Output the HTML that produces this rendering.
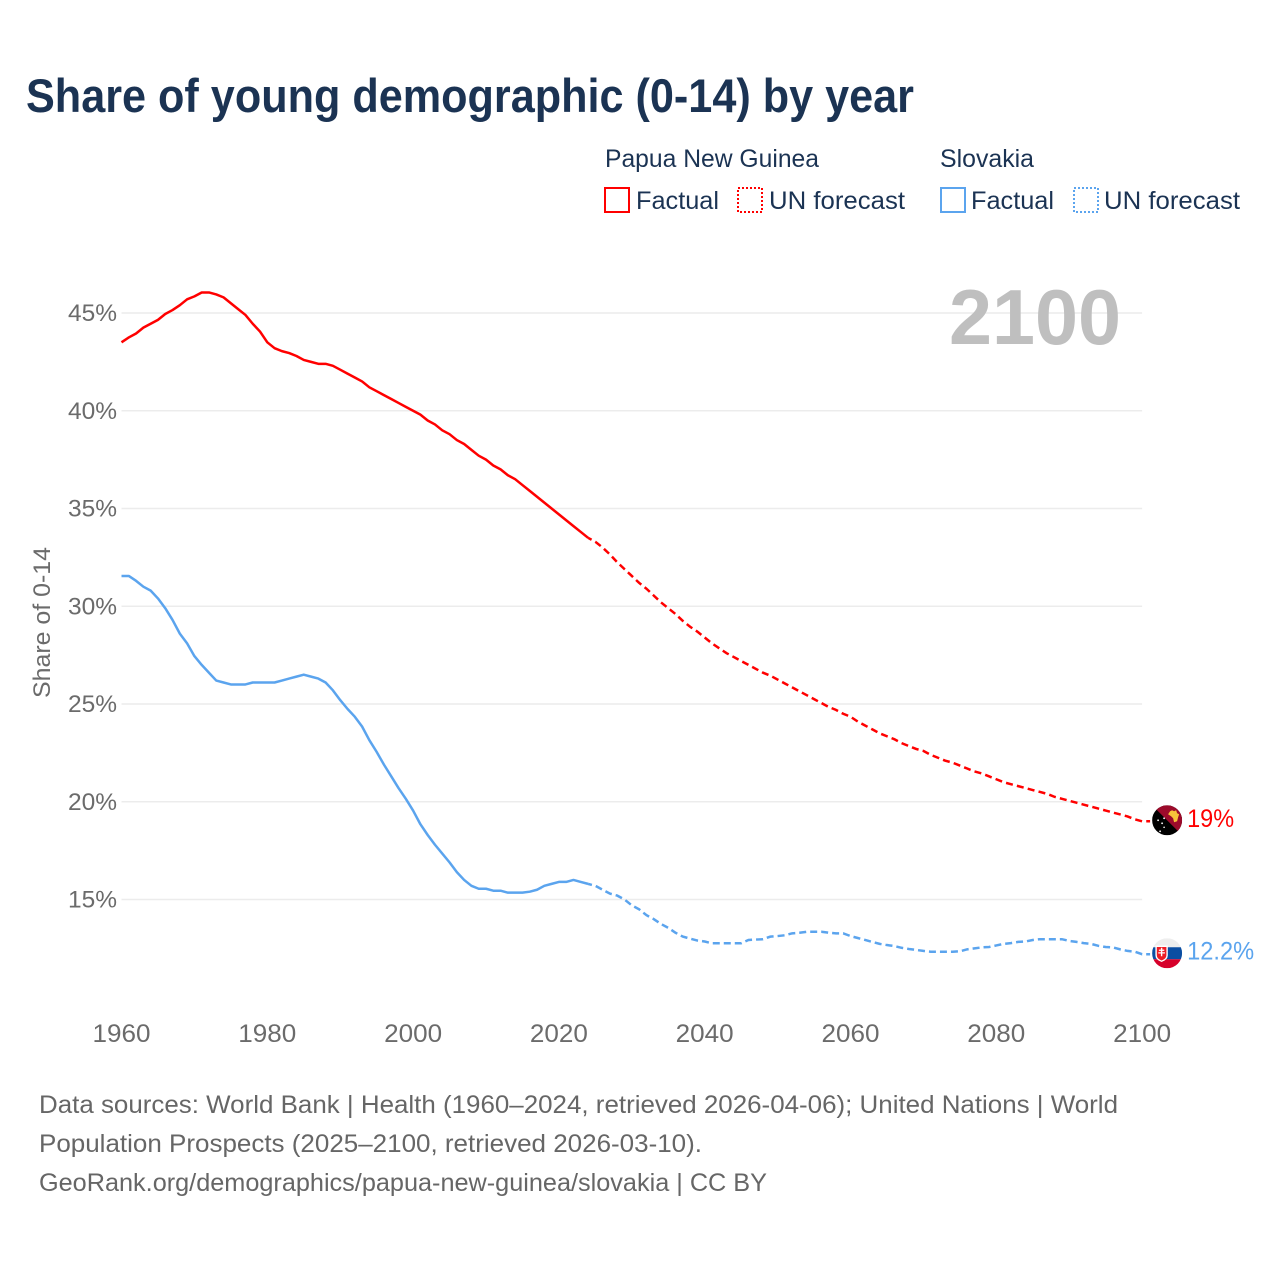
<!DOCTYPE html>
<html lang="en">
<head>
<meta charset="utf-8">
<title>Share of young demographic (0-14) by year</title>
<style>
html,body{margin:0;padding:0;background:#fff;}
svg{display:block;font-family:"Liberation Sans",sans-serif;}
.legend-text{font-size:25px;fill:#1b3353;}
.foot{font-size:25px;fill:#666;}
</style>
</head>
<body>
<svg id="chart" xmlns="http://www.w3.org/2000/svg" width="1280" height="1280" viewBox="0 0 1280 1280">
  <defs>
    <clipPath id="flag-clip"><circle cx="0" cy="0" r="15"></circle></clipPath>
  </defs>
  <rect width="1280" height="1280" fill="#fff"></rect>
  <text x="26" y="112" font-size="47" font-weight="700" fill="#1b3353" textLength="888" lengthAdjust="spacingAndGlyphs">Share of young demographic (0-14) by year</text>

  <g>
    <text class="legend-text" x="605" y="167" textLength="214" lengthAdjust="spacingAndGlyphs">Papua New Guinea</text>
    <text class="legend-text" x="940" y="167" textLength="94" lengthAdjust="spacingAndGlyphs">Slovakia</text>
    <rect x="605" y="188" width="24" height="24" fill="none" stroke="#ff0000" stroke-width="2"></rect>
    <text class="legend-text" x="636" y="209" textLength="83" lengthAdjust="spacingAndGlyphs">Factual</text>
    <rect x="738" y="188" width="24" height="24" fill="none" stroke="#ff0000" stroke-width="2" stroke-dasharray="2 2"></rect>
    <text class="legend-text" x="769" y="209" textLength="136" lengthAdjust="spacingAndGlyphs">UN forecast</text>
    <rect x="941" y="188" width="24" height="24" fill="none" stroke="#5ba4ee" stroke-width="2"></rect>
    <text class="legend-text" x="971" y="209" textLength="83" lengthAdjust="spacingAndGlyphs">Factual</text>
    <rect x="1074" y="188" width="24" height="24" fill="none" stroke="#5ba4ee" stroke-width="2" stroke-dasharray="2 2"></rect>
    <text class="legend-text" x="1104" y="209" textLength="136" lengthAdjust="spacingAndGlyphs">UN forecast</text>
  </g>

  <g id="grid"></g>
  <text x="1121" y="344" text-anchor="end" font-size="78" font-weight="700" fill="#bfbfbf" textLength="172" lengthAdjust="spacingAndGlyphs">2100</text>
  <g id="y-axis"></g>
  <text transform="translate(50,698) rotate(-90)" font-size="24" fill="#6b6b6b" textLength="151" lengthAdjust="spacingAndGlyphs">Share of 0-14</text>
  <g id="x-axis"></g>
  <g id="series"></g>

  <g id="flag-png">
    <rect x="-15" y="-15" width="30" height="30" fill="#000"></rect>
    <polygon points="-15,-15 15,-15 15,15" fill="#9c0b2b"></polygon>
    <path d="M1,-6 L3,-9 L5,-10 L7,-9 L9,-10 L10,-7 L12,-6 L11,-3 L10,1 L7,2 L6,-2 L4,-4 Z" fill="#f8c33a"></path>
    <circle cx="-9" cy="0" r="0.9" fill="#fff"></circle>
    <circle cx="-3" cy="-2" r="0.9" fill="#fff"></circle>
    <circle cx="-5" cy="3" r="0.9" fill="#fff"></circle>
    <circle cx="-3" cy="7" r="0.8" fill="#fff"></circle>
    <circle cx="-7" cy="11" r="0.9" fill="#fff"></circle>
  </g>
  <g id="flag-svk">
    <rect x="-15" y="-15" width="30" height="9" fill="#eeeeee"></rect>
    <rect x="-15" y="-6" width="30" height="12" fill="#0b4ea2"></rect>
    <rect x="-15" y="6" width="30" height="9" fill="#d6002a"></rect>
    <path d="M-11,-7 H0 V2 Q0,6 -5.5,8 Q-11,6 -11,2 Z" fill="#ee1c25" stroke="#fff" stroke-width="1.4"></path>
    <path d="M-6.2,-5.5 H-4.8 V-3.6 H-2.8 V-2.4 H-4.8 V-1 H-2.2 V0.2 H-4.8 V3 H-6.2 V0.2 H-8.8 V-1 H-6.2 V-2.4 H-8.2 V-3.6 H-6.2 Z" fill="#fff"></path>
  </g>
  <g id="value-labels"></g>

  <g>
    <text class="foot" x="39" y="1113" textLength="1079" lengthAdjust="spacingAndGlyphs">Data sources: World Bank | Health (1960–2024, retrieved 2026-04-06); United Nations | World</text>
    <text class="foot" x="39" y="1152" textLength="663" lengthAdjust="spacingAndGlyphs">Population Prospects (2025–2100, retrieved 2026-03-10).</text>
    <text class="foot" x="39" y="1191" textLength="728" lengthAdjust="spacingAndGlyphs">GeoRank.org/demographics/papua-new-guinea/slovakia | CC BY</text>
  </g>
</svg>
<script>
const startYear = 1960;
const lastFactualYear = 2024;
const pngValues = [
  43.5,43.75,43.95,44.25,44.45,44.65,44.95,45.15,45.4,45.7,
  45.85,46.05,46.05,45.95,45.8,45.5,45.2,44.9,44.45,44.05,
  43.5,43.2,43.05,42.95,42.8,42.6,42.5,42.4,42.4,42.3,
  42.1,41.9,41.7,41.5,41.2,41.0,40.8,40.6,40.4,40.2,
  40.0,39.8,39.5,39.3,39.0,38.8,38.5,38.3,38.0,37.7,
  37.5,37.2,37.0,36.7,36.5,36.2,35.9,35.6,35.3,35.0,
  34.7,34.4,34.1,33.8,33.5,33.3,33.0,32.65,32.25,31.9,
  31.55,31.2,30.9,30.55,30.2,29.9,29.6,29.25,28.95,28.7,
  28.4,28.1,27.85,27.6,27.4,27.2,27.0,26.8,26.6,26.45,
  26.25,26.05,25.85,25.65,25.45,25.25,25.05,24.85,24.7,24.5,
  24.35,24.1,23.9,23.7,23.5,23.35,23.2,23.0,22.85,22.7,
  22.6,22.4,22.25,22.1,22.0,21.85,21.7,21.55,21.45,21.3,
  21.15,21.0,20.9,20.8,20.7,20.6,20.5,20.4,20.25,20.15,
  20.05,19.95,19.85,19.75,19.65,19.55,19.45,19.35,19.25,19.1,
  19
];
const svkValues = [
  31.55,31.55,31.3,31.0,30.8,30.4,29.9,29.3,28.6,28.1,
  27.45,27.0,26.6,26.2,26.1,26.0,26.0,26.0,26.1,26.1,
  26.1,26.1,26.2,26.3,26.4,26.5,26.4,26.3,26.1,25.7,
  25.2,24.75,24.35,23.85,23.15,22.55,21.9,21.3,20.7,20.15,
  19.55,18.85,18.3,17.8,17.35,16.9,16.4,16.0,15.7,15.55,
  15.55,15.45,15.45,15.35,15.35,15.35,15.4,15.5,15.7,15.8,
  15.9,15.9,16.0,15.9,15.8,15.7,15.5,15.3,15.2,15.0,
  14.7,14.5,14.2,14.0,13.75,13.55,13.3,13.1,13.0,12.9,
  12.85,12.76,12.76,12.76,12.76,12.76,12.93,12.95,12.97,13.1,
  13.13,13.17,13.27,13.3,13.35,13.35,13.35,13.3,13.27,13.27,
  13.13,13.03,12.93,12.83,12.73,12.67,12.62,12.53,12.47,12.42,
  12.37,12.33,12.33,12.33,12.33,12.35,12.45,12.5,12.55,12.57,
  12.65,12.73,12.77,12.83,12.85,12.93,12.97,12.97,12.97,12.97,
  12.88,12.83,12.77,12.73,12.63,12.57,12.55,12.45,12.37,12.33,
  12.2
];
const xTickYears = [1960,1980,2000,2020,2040,2060,2080,2100];
const yTickValues = [45,40,35,30,25,20,15];

const NS = 'http://www.w3.org/2000/svg';
function xScale(year){ return 121.5 + (year - 1960) * 7.29; }
function yScale(v){ return 899.5 - (v - 15) * 19.55; }
function make(tag, parent){
  const el = document.createElementNS(NS, tag);
  parent.appendChild(el);
  return el;
}

const grid = document.getElementById('grid');
const yAxis = document.getElementById('y-axis');
yTickValues.forEach(function(v){
  const line = make('line', grid);
  
  
  line.setAttribute('x1', xScale(1960));
  line.setAttribute('x2', xScale(2100));
  line.setAttribute('y1', yScale(v));
  line.setAttribute('y2', yScale(v));
  line.setAttribute('stroke', '#ececec');
  line.setAttribute('stroke-width', '1.5');
  const t = make('text', yAxis);
  
  
  t.setAttribute('x', 117);
  t.setAttribute('y', yScale(v) + 8);
  t.setAttribute('text-anchor', 'end');
  t.setAttribute('font-size', '24.5');
  t.setAttribute('fill', '#6b6b6b');
  t.textContent = v + '%';
});

const xAxis = document.getElementById('x-axis');
xTickYears.forEach(function(year){
  const t = make('text', xAxis);
  
  
  t.setAttribute('x', xScale(year));
  t.setAttribute('y', 1042);
  t.setAttribute('text-anchor', 'middle');
  t.setAttribute('font-size', '25');
  t.setAttribute('fill', '#6b6b6b');
  t.setAttribute('textLength', '58');
  t.setAttribute('lengthAdjust', 'spacingAndGlyphs');
  t.textContent = year;
});

const seriesGroup = document.getElementById('series');
const labelGroup = document.getElementById('value-labels');
function pathFor(values, from, to, tail){
  let d = '';
  for (let i = from; i <= to; i++){
    d += (i === from ? 'M' : 'L') + xScale(startYear + i).toFixed(2) + ',' + yScale(values[i]).toFixed(2);
  }
  if (tail){
    d += 'L' + (xScale(startYear + to) + tail).toFixed(2) + ',' + yScale(values[to]).toFixed(2);
  }
  return d;
}
function drawSeries(key, values, color, dash, offset, flagId, labelWidth){
  const split = lastFactualYear - startYear;
  const last = values.length - 1;
  const solid = make('path', seriesGroup);
  
  
  solid.setAttribute('d', pathFor(values, 0, split, 0));
  solid.setAttribute('fill', 'none');
  solid.setAttribute('stroke', color);
  solid.setAttribute('stroke-width', '2.5');
  solid.setAttribute('stroke-linejoin', 'round');
  const fc = make('path', seriesGroup);
  
  
  fc.setAttribute('d', pathFor(values, split, last, 8));
  fc.setAttribute('fill', 'none');
  fc.setAttribute('stroke', color);
  fc.setAttribute('stroke-width', '2.5');
  fc.setAttribute('stroke-dasharray', dash);
  fc.setAttribute('stroke-dashoffset', offset);
  const endX = xScale(startYear + last);
  const endY = yScale(values[last]);
  const flag = document.getElementById(flagId);
  flag.setAttribute('transform', 'translate(' + (endX + 25) + ',' + (endY - 1) + ')');
  flag.setAttribute('clip-path', 'url(#flag-clip)');
  const t = make('text', labelGroup);
  
  
  t.setAttribute('x', endX + 45);
  t.setAttribute('y', endY + 5.5);
  t.setAttribute('font-size', '25');
  t.setAttribute('fill', color);
  t.setAttribute('textLength', labelWidth);
  t.setAttribute('lengthAdjust', 'spacingAndGlyphs');
  t.textContent = values[last] + '%';
}
drawSeries('png', pngValues, '#ff0000', '7 4.2', 3, 'flag-png', 47);
drawSeries('svk', svkValues, '#5ba4ee', '7 4', 3, 'flag-svk', 67);
</script>
</body>
</html>
